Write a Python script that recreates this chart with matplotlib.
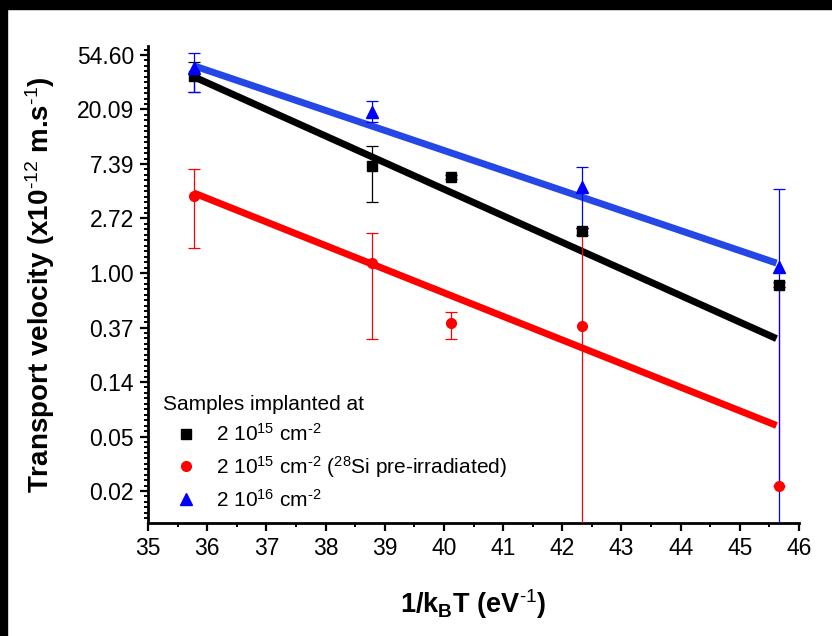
#!/usr/bin/env python3
"""Transport velocity vs 1/kBT (Arrhenius plot, ln scale)."""
import matplotlib
matplotlib.use("Agg")
import matplotlib.pyplot as plt  # noqa: E402
import numpy as np  # noqa: E402
from matplotlib.lines import Line2D  # noqa: E402
from matplotlib.patches import Rectangle  # noqa: E402
from matplotlib.ticker import FixedLocator, FuncFormatter  # noqa: E402

# --- data ------------------------------------------------------------------
x_pts = [35.78, 38.78, 40.12, 42.33, 45.67]

black_y = [37.0, 7.1, 5.8, 2.16, 0.80]
black_lo = [27.7, 3.68, 5.6, 2.0, 0.77]
black_hi = [48.0, 10.3, 6.0, 2.3, 0.85]

red_y = [4.1, 1.2, 0.40, 0.38, 0.020]
red_lo = [1.58, 0.30, 0.30, 1e-4, 0.020]
red_hi = [6.75, 2.08, 0.49, 2.3, 0.77]

blue_x = [35.78, 38.78, 42.33, 45.67]
blue_y = [43.0, 19.2, 4.85, 1.12]
blue_lo = [27.7, 16.0, 2.3, 1e-4]
blue_hi = [56.6, 23.5, 7.0, 4.67]

# linear fits of ln(v) vs 1/kBT, end points
fit_x = [35.78, 45.62]
black_fit = [36.5, 0.30]
red_fit = [4.33, 0.061]
blue_fit = [44.7, 1.2]

labels = [r"2 10$^{15}$ cm$^{\text{-2}}$",
          r"2 10$^{15}$ cm$^{\text{-2}}$ ($^{28}$Si pre-irradiated)",
          r"2 10$^{16}$ cm$^{\text{-2}}$"]

plt.rcParams["font.family"] = ["Liberation Sans", "DejaVu Sans"]
plt.rcParams["mathtext.fontset"] = "custom"
plt.rcParams["mathtext.rm"] = "Liberation Sans"
plt.rcParams["mathtext.it"] = "Liberation Sans:italic"
plt.rcParams["mathtext.bf"] = "Liberation Sans:bold"


def yerr(y, lo, hi):
    y, lo, hi = map(np.asarray, (y, lo, hi))
    return np.vstack([y - lo, hi - y])


fig = plt.figure(figsize=(8.32, 6.36), dpi=100)
ax = fig.add_axes([148 / 832, 1 - 523 / 636, (799 - 148) / 832,
                   (523 - 46) / 636])

# fit lines
ax.plot(fit_x, black_fit, color="black", lw=5, zorder=2, solid_capstyle="butt")
ax.plot(fit_x, red_fit, color="#ff0000", lw=5, zorder=2, solid_capstyle="butt")
ax.plot(fit_x, blue_fit, color="#2447e6", lw=5, zorder=2, solid_capstyle="butt")

ekw = dict(elinewidth=0.9, capsize=4, capthick=0.9, ls="none", zorder=3)
ax.errorbar(x_pts, black_y, yerr=yerr(black_y, black_lo, black_hi),
            fmt="s", color="black", ms=6.5, **ekw)
ax.errorbar(x_pts, red_y, yerr=yerr(red_y, red_lo, red_hi),
            fmt="o", color="#ff0000", ms=7, **ekw)
ax.errorbar(blue_x, blue_y, yerr=yerr(blue_y, blue_lo, blue_hi),
            fmt="^", color="#0000ff", ms=8, **ekw)

ax.set_yscale("log", base=np.e)
ax.set_ylim(np.exp(-4.587), np.exp(4.165))
ax.set_xlim(35, 46)

ax.yaxis.set_major_locator(FixedLocator(np.exp(np.arange(-4, 5))))
ax.yaxis.set_major_formatter(FuncFormatter(lambda v, p: f"{v:.2f}"))
ax.yaxis.set_minor_locator(FixedLocator(np.exp(np.arange(-47, 43) / 10)))
ax.yaxis.set_minor_formatter(FuncFormatter(lambda v, p: ""))
ax.set_xticks(range(35, 47))
ax.set_xticks(np.arange(35.5, 46, 1), minor=True)

ax.tick_params(which="both", direction="out", width=1.6, labelsize=16.5,
               colors="black")
ax.tick_params(which="major", length=6, pad=4)
ax.tick_params(which="minor", length=3, width=1.4)

for side in ("top", "right"):
    ax.spines[side].set_visible(False)
for side in ("left", "bottom"):
    ax.spines[side].set_linewidth(2)

ax.set_xlabel(r"1/k$_{\mathbf{B}}$T (eV$^{\mathbf{\text{-1}}}$)", fontsize=19.5,
              fontweight="bold", labelpad=20)
ax.set_ylabel(r"Transport velocity (x10$^{\mathbf{\text{-12}}}$ m.s$^{\mathbf{\text{-1}}}$)",
              fontsize=20, fontweight="bold", labelpad=14)

handles = [Line2D([], [], ls="none", marker="s", color="black", ms=6.5),
           Line2D([], [], ls="none", marker="o", color="#ff0000", ms=7),
           Line2D([], [], ls="none", marker="^", color="#0000ff", ms=8)]
leg = ax.legend(handles, labels, loc="upper left",
                bbox_to_anchor=(0.011, 0.285),
                frameon=False, fontsize=15, title="Samples implanted at",
                title_fontsize=15, handletextpad=0.3, labelspacing=0.42,
                borderaxespad=0, alignment="left", handlelength=2.2)

# black frame strips at the top and left of the picture
fig.add_artist(Rectangle((0, 1 - 9 / 636), 1, 9 / 636,
                         transform=fig.transFigure, color="black", zorder=10))
fig.add_artist(Rectangle((0, 0), 7 / 832, 1,
                         transform=fig.transFigure, color="black", zorder=10))

fig.savefig("out.png", dpi=100)
